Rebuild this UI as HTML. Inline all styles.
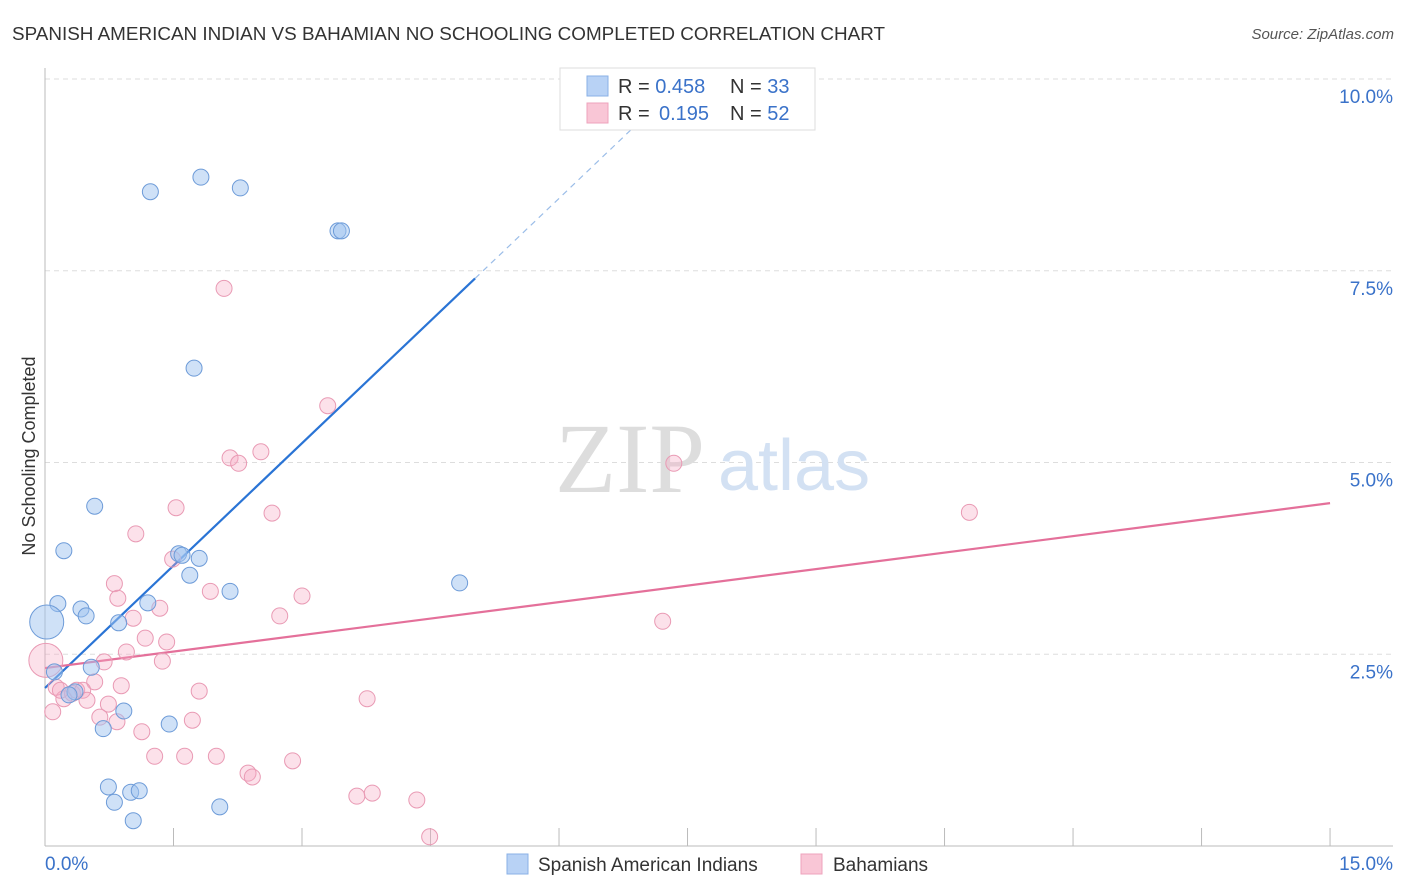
<!DOCTYPE html>
<html><head><meta charset="utf-8"><style>
body{margin:0;background:#fff;font-family:"Liberation Sans",sans-serif}
svg{display:block}
</style></head><body>
<svg id="chart" width="1406" height="892" xmlns="http://www.w3.org/2000/svg">
<text x="12" y="40" font-size="18" fill="#333" textLength="873" lengthAdjust="spacingAndGlyphs">SPANISH AMERICAN INDIAN VS BAHAMIAN NO SCHOOLING COMPLETED CORRELATION CHART</text>
<text x="1394" y="39" font-size="15" fill="#555" font-style="italic" text-anchor="end">Source: ZipAtlas.com</text>
<text x="35" y="456" font-size="18" fill="#333" text-anchor="middle" transform="rotate(-90 35 456)">No Schooling Completed</text>
<g id="grid"></g>
<g id="ticks"></g>
<text x="555" y="492" font-size="100" font-family="Liberation Serif,serif" fill="#ddd">ZIP</text>
<text x="718" y="490" font-size="72" fill="#d3e1f3">atlas</text>
<g id="trend"></g>
<g id="pts"></g>
<g>
<rect x="560" y="68" width="255" height="62" fill="#fff" stroke="#ddd"/>
<rect x="587" y="76" width="21" height="20" fill="#b8d2f5" stroke="#8ab0e6"/>
<rect x="587" y="103" width="21" height="20" fill="#f9c6d6" stroke="#eea3bc"/>
<text x="618" y="93" font-size="20" fill="#333">R = <tspan fill="#3a72c9">0.458</tspan><tspan x="730">N = </tspan><tspan fill="#3a72c9">33</tspan></text>
<text x="618" y="120" font-size="20" fill="#333">R = <tspan x="659" fill="#3a72c9">0.195</tspan><tspan x="730">N = </tspan><tspan fill="#3a72c9">52</tspan></text>
</g>
<g>
<rect x="507" y="854" width="21" height="20" fill="#b8d2f5" stroke="#8ab0e6"/>
<text x="538" y="871" font-size="19" fill="#333">Spanish American Indians</text>
<rect x="801" y="854" width="21" height="20" fill="#f9c6d6" stroke="#eea3bc"/>
<text x="833" y="871" font-size="19" fill="#333">Bahamians</text>
</g>
</svg>
<script>
const yTicks=[2.5,5.0,7.5,10.0];
const xTickVals=[1.5,3,4.5,6,7.5,9,10.5,12,13.5,15];
const blueX=[1.23,1.82,2.28,3.42,3.46,1.74,0.58,0.22,1.56,1.60,1.80,1.69,2.16,4.84,0.15,0.42,0.48,1.20,0.86,0.02,0.11,0.54,0.35,0.28,0.92,0.68,1.45,0.74,0.81,1.00,1.10,1.03,2.04];
const blueY=[8.53,8.72,8.58,8.02,8.02,6.23,4.43,3.85,3.81,3.79,3.75,3.53,3.32,3.43,3.16,3.09,3.00,3.17,2.91,2.92,2.27,2.33,2.01,1.97,1.76,1.53,1.59,0.77,0.57,0.70,0.72,0.33,0.51];
const pinkX=[2.09,3.30,2.16,2.26,2.52,7.34,10.79,1.53,2.65,1.06,1.49,0.81,0.85,1.93,3.00,1.34,1.03,2.74,1.17,1.42,7.21,0.95,1.37,0.69,0.01,0.89,0.58,0.13,0.32,0.37,0.44,0.22,1.80,0.74,0.09,3.76,1.72,0.64,0.84,1.13,1.28,1.63,2.00,2.89,2.37,2.42,3.64,3.82,4.34,4.49,0.18,0.49];
const pinkY=[7.27,5.74,5.06,4.99,5.14,4.99,4.35,4.41,4.34,4.07,3.74,3.42,3.23,3.32,3.26,3.10,2.97,3.00,2.71,2.66,2.93,2.53,2.41,2.40,2.42,2.09,2.14,2.07,1.99,2.03,2.03,1.92,2.02,1.85,1.75,1.92,1.64,1.68,1.62,1.49,1.17,1.17,1.17,1.11,0.95,0.90,0.65,0.69,0.60,0.12,2.03,1.90];
const blueTrend=[[0,2.06],[5.02,7.40]];
const blueDash=[[5.02,7.40],[7.18,9.70]];
const pinkTrend=[[0,2.32],[15,4.47]];
const X=v=>45+v*85.67, Y=v=>846-v*76.7;
const NS="http://www.w3.org/2000/svg";
function mk(t,a,p){const e=document.createElementNS(NS,t);for(const k in a)e.setAttribute(k,a[k]);p.appendChild(e);return e;}
const grid=document.getElementById('grid'),ticks=document.getElementById('ticks');
yTicks.forEach(v=>{const l=mk('line',{x1:45,x2:1393,y1:Y(v),y2:Y(v),stroke:'#ddd','stroke-dasharray':'5,4'},grid);


const t=mk('text',{x:1393,y:Y(v)+24,'font-size':19,fill:'#3a72c9','text-anchor':'end'},grid);t.textContent=v.toFixed(1)+'%';

});
const ax=mk('line',{x1:45,x2:1393,y1:846,y2:846,stroke:'#bbb'},ticks);


const ay=mk('line',{x1:45,x2:45,y1:68,y2:846,stroke:'#bbb'},ticks);


xTickVals.forEach(v=>{const l=mk('line',{x1:X(v),x2:X(v),y1:828,y2:846,stroke:'#bbb'},ticks);

});
[[0,'0.0%','start',45],[15,'15.0%','end',1393]].forEach(d=>{const t=mk('text',{x:d[3],y:870,'font-size':19,fill:'#3a72c9','text-anchor':d[2]},ticks);t.textContent=d[1];

});
const tr=document.getElementById('trend');
let a=mk('line',{x1:X(blueTrend[0][0]),y1:Y(blueTrend[0][1]),x2:X(blueTrend[1][0]),y2:Y(blueTrend[1][1]),stroke:'#2a74d5','stroke-width':2.2},tr);


a=mk('line',{x1:X(blueDash[0][0]),y1:Y(blueDash[0][1]),x2:X(blueDash[1][0]),y2:Y(blueDash[1][1]),stroke:'#9bbde8','stroke-width':1.2,'stroke-dasharray':'6,5'},tr);


a=mk('line',{x1:X(pinkTrend[0][0]),y1:Y(pinkTrend[0][1]),x2:X(pinkTrend[1][0]),y2:Y(pinkTrend[1][1]),stroke:'#e4709a','stroke-width':2.2},tr);


const pts=document.getElementById('pts');
pinkX.forEach((x,i)=>{const c=mk('circle',{cx:X(x),cy:Y(pinkY[i]),r:x<0.05?17:8,fill:'rgba(246,170,195,0.35)',stroke:'#e99ab4','stroke-width':1},pts);

});
blueX.forEach((x,i)=>{const c=mk('circle',{cx:X(x),cy:Y(blueY[i]),r:x<0.05?17:8,fill:'rgba(160,195,240,0.5)',stroke:'#6d9bd8','stroke-width':1},pts);

});
</script>
</body></html>
